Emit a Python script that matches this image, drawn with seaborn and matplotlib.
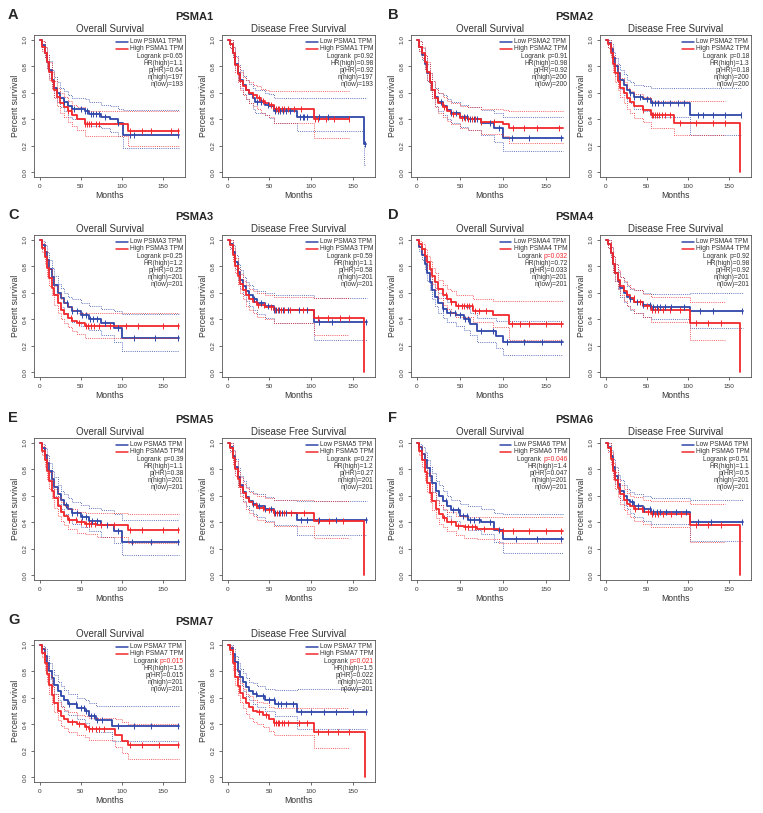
import numpy as np
import matplotlib
matplotlib.use("Agg")
import matplotlib.pyplot as plt
import seaborn as sns

# ---------------- data ----------------
genes = ["PSMA1", "PSMA2", "PSMA3", "PSMA4", "PSMA5", "PSMA6", "PSMA7"]
panel_letters = ["A", "B", "C", "D", "E", "F", "G"]

# stats: logrank p, HR(high), p(HR), n(high), n(low)
psma1_os_stats = ["0.65", "1.1", "0.64", "197", "193"]
psma1_dfs_stats = ["0.92", "0.98", "0.92", "197", "193"]
psma2_os_stats = ["0.91", "0.98", "0.92", "200", "200"]
psma2_dfs_stats = ["0.18", "1.3", "0.18", "200", "200"]
psma3_os_stats = ["0.25", "1.2", "0.25", "201", "201"]
psma3_dfs_stats = ["0.59", "1.1", "0.58", "201", "201"]
psma4_os_stats = ["0.032", "0.72", "0.033", "201", "201"]
psma4_dfs_stats = ["0.92", "0.98", "0.92", "201", "201"]
psma5_os_stats = ["0.39", "1.1", "0.38", "201", "201"]
psma5_dfs_stats = ["0.27", "1.2", "0.27", "201", "201"]
psma6_os_stats = ["0.046", "1.4", "0.047", "201", "201"]
psma6_dfs_stats = ["0.51", "1.1", "0.5", "201", "201"]
psma7_os_stats = ["0.015", "1.5", "0.015", "201", "201"]
psma7_dfs_stats = ["0.021", "1.5", "0.022", "201", "201"]

# KM curves: knot times, survival, lower / upper 95% CI, censor times
psma1_os_low_t = [0, 3, 6, 9, 12, 15, 18, 21, 25, 30, 35, 40, 55, 60, 75, 85, 95, 101, 170]
psma1_os_low_s = [1.0, 0.96, 0.9, 0.83, 0.77, 0.7, 0.64, 0.6, 0.56, 0.53, 0.5, 0.48, 0.46, 0.44, 0.42, 0.4, 0.37, 0.28, 0.28]
psma1_os_low_lo = [1.0, 0.93, 0.86, 0.78, 0.71, 0.64, 0.57, 0.53, 0.49, 0.46, 0.42, 0.4, 0.38, 0.35, 0.33, 0.3, 0.27, 0.18, 0.18]
psma1_os_low_hi = [1.0, 0.99, 0.95, 0.89, 0.84, 0.77, 0.72, 0.68, 0.64, 0.61, 0.58, 0.56, 0.55, 0.53, 0.51, 0.5, 0.48, 0.47, 0.47]
psma1_os_low_cens = [30, 42, 50, 55, 58, 62, 65, 68, 72, 80, 95, 110, 115, 168]
psma1_os_high_t = [0, 3, 6, 9, 12, 15, 18, 21, 25, 30, 35, 40, 45, 55, 107, 170]
psma1_os_high_s = [1.0, 0.95, 0.9, 0.83, 0.76, 0.69, 0.62, 0.57, 0.52, 0.49, 0.46, 0.43, 0.4, 0.36, 0.31, 0.31]
psma1_os_high_lo = [1.0, 0.92, 0.86, 0.78, 0.7, 0.63, 0.56, 0.5, 0.45, 0.42, 0.38, 0.35, 0.32, 0.27, 0.2, 0.2]
psma1_os_high_hi = [1.0, 0.99, 0.95, 0.89, 0.83, 0.76, 0.69, 0.64, 0.6, 0.57, 0.54, 0.51, 0.49, 0.46, 0.46, 0.46]
psma1_os_high_cens = [35, 38, 55, 58, 60, 63, 68, 72, 110, 125, 135, 160, 168]

psma1_dfs_low_t = [0, 3, 6, 9, 12, 15, 18, 22, 26, 30, 33, 45, 50, 55, 83, 163, 166]
psma1_dfs_low_s = [1.0, 0.97, 0.9, 0.82, 0.75, 0.7, 0.66, 0.62, 0.59, 0.56, 0.53, 0.51, 0.5, 0.46, 0.42, 0.21, 0.21]
psma1_dfs_low_lo = [1.0, 0.94, 0.86, 0.77, 0.69, 0.64, 0.59, 0.55, 0.52, 0.48, 0.45, 0.43, 0.41, 0.37, 0.31, 0.05, 0.05]
psma1_dfs_low_hi = [1.0, 1.0, 0.95, 0.88, 0.81, 0.77, 0.73, 0.7, 0.67, 0.64, 0.62, 0.6, 0.59, 0.56, 0.56, 0.56, 0.56]
psma1_dfs_low_cens = [35, 40, 48, 57, 60, 63, 66, 70, 75, 87, 90, 92, 95, 110, 120, 165]
psma1_dfs_high_t = [0, 3, 6, 9, 12, 15, 18, 22, 26, 30, 35, 40, 45, 50, 55, 103, 145]
psma1_dfs_high_s = [1.0, 0.97, 0.9, 0.81, 0.74, 0.69, 0.65, 0.62, 0.6, 0.58, 0.56, 0.54, 0.52, 0.51, 0.48, 0.4, 0.4]
psma1_dfs_high_lo = [1.0, 0.94, 0.86, 0.76, 0.68, 0.62, 0.58, 0.55, 0.52, 0.5, 0.48, 0.45, 0.43, 0.42, 0.37, 0.26, 0.26]
psma1_dfs_high_hi = [1.0, 1.0, 0.95, 0.87, 0.8, 0.76, 0.72, 0.7, 0.68, 0.66, 0.65, 0.63, 0.62, 0.61, 0.61, 0.61, 0.61]
psma1_dfs_high_cens = [30, 38, 42, 52, 58, 60, 62, 65, 68, 72, 80, 88, 105, 108, 118, 128, 145]

psma2_os_low_t = [0, 3, 6, 9, 12, 15, 18, 21, 25, 30, 35, 40, 50, 60, 75, 90, 100, 170]
psma2_os_low_s = [1.0, 0.95, 0.89, 0.82, 0.75, 0.68, 0.62, 0.57, 0.53, 0.5, 0.47, 0.45, 0.42, 0.4, 0.37, 0.33, 0.26, 0.26]
psma2_os_low_lo = [1.0, 0.92, 0.85, 0.77, 0.69, 0.62, 0.56, 0.5, 0.46, 0.43, 0.4, 0.37, 0.34, 0.32, 0.28, 0.23, 0.16, 0.16]
psma2_os_low_hi = [1.0, 0.99, 0.94, 0.88, 0.82, 0.75, 0.69, 0.64, 0.6, 0.58, 0.55, 0.53, 0.51, 0.49, 0.47, 0.45, 0.42, 0.42]
psma2_os_low_cens = [28, 40, 45, 55, 58, 62, 66, 70, 85, 95, 110, 130, 168]
psma2_os_high_t = [0, 3, 6, 9, 12, 15, 18, 21, 25, 30, 35, 40, 50, 60, 75, 100, 107, 170]
psma2_os_high_s = [1.0, 0.95, 0.9, 0.83, 0.76, 0.68, 0.62, 0.56, 0.52, 0.49, 0.46, 0.44, 0.41, 0.4, 0.38, 0.36, 0.33, 0.33]
psma2_os_high_lo = [1.0, 0.92, 0.86, 0.78, 0.7, 0.62, 0.56, 0.49, 0.45, 0.42, 0.39, 0.36, 0.33, 0.32, 0.29, 0.27, 0.22, 0.22]
psma2_os_high_hi = [1.0, 0.99, 0.95, 0.89, 0.83, 0.75, 0.69, 0.63, 0.6, 0.57, 0.54, 0.52, 0.5, 0.49, 0.48, 0.47, 0.46, 0.46]
psma2_os_high_cens = [32, 42, 52, 56, 60, 64, 68, 75, 90, 112, 125, 140, 165]

psma2_dfs_low_t = [0, 3, 6, 9, 12, 15, 18, 22, 26, 30, 35, 45, 55, 103, 165]
psma2_dfs_low_s = [1.0, 0.98, 0.93, 0.86, 0.8, 0.75, 0.7, 0.66, 0.62, 0.6, 0.57, 0.55, 0.52, 0.43, 0.43]
psma2_dfs_low_lo = [1.0, 0.95, 0.89, 0.8, 0.73, 0.68, 0.63, 0.58, 0.54, 0.52, 0.48, 0.46, 0.42, 0.28, 0.28]
psma2_dfs_low_hi = [1.0, 1.0, 0.97, 0.91, 0.86, 0.82, 0.77, 0.74, 0.7, 0.68, 0.66, 0.65, 0.64, 0.64, 0.64]
psma2_dfs_low_cens = [30, 35, 42, 50, 56, 60, 64, 70, 78, 88, 95, 112, 118, 130, 145, 165]
psma2_dfs_high_t = [0, 3, 6, 9, 12, 15, 18, 22, 26, 30, 35, 45, 55, 83, 145, 163]
psma2_dfs_high_s = [1.0, 0.97, 0.9, 0.82, 0.75, 0.69, 0.64, 0.6, 0.56, 0.53, 0.5, 0.47, 0.43, 0.37, 0.37, 0.0]
psma2_dfs_high_lo = [1.0, 0.94, 0.86, 0.76, 0.68, 0.62, 0.57, 0.52, 0.48, 0.45, 0.41, 0.38, 0.33, 0.28, 0.28]
psma2_dfs_high_hi = [1.0, 1.0, 0.95, 0.88, 0.82, 0.76, 0.71, 0.68, 0.64, 0.61, 0.59, 0.57, 0.54, 0.54, 0.54]
psma2_dfs_high_cens = [45, 56, 58, 60, 62, 65, 68, 72, 78, 90, 110, 130, 145]

psma3_os_low_t = [0, 3, 6, 9, 12, 15, 18, 22, 26, 30, 35, 40, 50, 60, 75, 90, 100, 170]
psma3_os_low_s = [1.0, 0.96, 0.91, 0.85, 0.78, 0.72, 0.66, 0.6, 0.56, 0.52, 0.49, 0.46, 0.43, 0.4, 0.37, 0.33, 0.26, 0.26]
psma3_os_low_lo = [1.0, 0.93, 0.87, 0.8, 0.72, 0.66, 0.59, 0.53, 0.49, 0.45, 0.41, 0.38, 0.35, 0.32, 0.28, 0.23, 0.16, 0.16]
psma3_os_low_hi = [1.0, 0.99, 0.96, 0.91, 0.85, 0.79, 0.73, 0.67, 0.64, 0.6, 0.57, 0.55, 0.52, 0.5, 0.48, 0.46, 0.44, 0.44]
psma3_os_low_cens = [33, 40, 46, 52, 57, 61, 65, 70, 80, 95, 115, 140, 168]
psma3_os_high_t = [0, 3, 6, 9, 12, 15, 18, 22, 26, 30, 35, 40, 45, 55, 170]
psma3_os_high_s = [1.0, 0.94, 0.87, 0.79, 0.71, 0.64, 0.58, 0.52, 0.47, 0.44, 0.41, 0.39, 0.37, 0.35, 0.35]
psma3_os_high_lo = [1.0, 0.91, 0.82, 0.73, 0.65, 0.58, 0.51, 0.45, 0.4, 0.37, 0.34, 0.31, 0.29, 0.26, 0.26]
psma3_os_high_hi = [1.0, 0.98, 0.92, 0.85, 0.78, 0.71, 0.65, 0.59, 0.55, 0.52, 0.49, 0.47, 0.45, 0.45, 0.45]
psma3_os_high_cens = [38, 48, 56, 59, 62, 66, 72, 85, 105, 120, 150, 168]

psma3_dfs_low_t = [0, 3, 6, 9, 12, 15, 18, 22, 26, 30, 35, 45, 55, 103, 167]
psma3_dfs_low_s = [1.0, 0.97, 0.91, 0.83, 0.76, 0.7, 0.65, 0.61, 0.58, 0.55, 0.52, 0.5, 0.47, 0.38, 0.38]
psma3_dfs_low_lo = [1.0, 0.94, 0.87, 0.78, 0.7, 0.63, 0.58, 0.54, 0.5, 0.47, 0.44, 0.41, 0.37, 0.24, 0.24]
psma3_dfs_low_hi = [1.0, 1.0, 0.96, 0.89, 0.82, 0.77, 0.72, 0.68, 0.66, 0.63, 0.61, 0.6, 0.58, 0.56, 0.56]
psma3_dfs_low_cens = [32, 40, 48, 55, 58, 62, 66, 72, 85, 95, 110, 125, 166]
psma3_dfs_high_t = [0, 3, 6, 9, 12, 15, 18, 22, 26, 30, 35, 45, 55, 103, 145, 163]
psma3_dfs_high_s = [1.0, 0.96, 0.89, 0.8, 0.73, 0.67, 0.62, 0.58, 0.55, 0.53, 0.51, 0.49, 0.47, 0.41, 0.41, 0.0]
psma3_dfs_high_lo = [1.0, 0.93, 0.84, 0.75, 0.67, 0.6, 0.55, 0.5, 0.47, 0.45, 0.42, 0.4, 0.37, 0.28, 0.28]
psma3_dfs_high_hi = [1.0, 1.0, 0.94, 0.86, 0.79, 0.74, 0.69, 0.66, 0.63, 0.61, 0.6, 0.58, 0.57, 0.56, 0.56]
psma3_dfs_high_cens = [36, 44, 52, 57, 60, 64, 68, 75, 90, 108, 120, 135, 145]

psma4_os_low_t = [0, 3, 6, 9, 12, 15, 18, 21, 25, 30, 35, 45, 55, 62, 70, 92, 100, 170]
psma4_os_low_s = [1.0, 0.95, 0.89, 0.82, 0.75, 0.68, 0.62, 0.57, 0.52, 0.48, 0.45, 0.43, 0.4, 0.36, 0.31, 0.27, 0.23, 0.23]
psma4_os_low_lo = [1.0, 0.92, 0.85, 0.77, 0.69, 0.62, 0.55, 0.5, 0.45, 0.41, 0.38, 0.35, 0.32, 0.28, 0.23, 0.18, 0.13, 0.13]
psma4_os_low_hi = [1.0, 0.98, 0.94, 0.88, 0.81, 0.75, 0.69, 0.64, 0.6, 0.56, 0.53, 0.51, 0.49, 0.45, 0.41, 0.39, 0.39, 0.39]
psma4_os_low_cens = [30, 38, 44, 50, 56, 60, 75, 88, 105, 125, 145, 168]
psma4_os_high_t = [0, 3, 6, 9, 12, 15, 18, 21, 25, 30, 35, 40, 45, 65, 88, 107, 170]
psma4_os_high_s = [1.0, 0.97, 0.93, 0.88, 0.83, 0.78, 0.73, 0.68, 0.63, 0.58, 0.55, 0.53, 0.5, 0.46, 0.43, 0.36, 0.36]
psma4_os_high_lo = [1.0, 0.95, 0.9, 0.84, 0.78, 0.72, 0.67, 0.62, 0.56, 0.51, 0.48, 0.45, 0.42, 0.38, 0.34, 0.24, 0.24]
psma4_os_high_hi = [1.0, 0.99, 0.97, 0.93, 0.88, 0.84, 0.79, 0.75, 0.7, 0.66, 0.63, 0.61, 0.58, 0.55, 0.54, 0.54, 0.54]
psma4_os_high_cens = [34, 40, 48, 52, 55, 58, 61, 64, 68, 72, 80, 110, 120, 130, 150, 168]

psma4_dfs_low_t = [0, 3, 6, 9, 12, 15, 18, 22, 26, 30, 35, 45, 55, 103, 167]
psma4_dfs_low_s = [1.0, 0.97, 0.9, 0.82, 0.75, 0.69, 0.64, 0.6, 0.57, 0.55, 0.53, 0.51, 0.49, 0.46, 0.46]
psma4_dfs_low_lo = [1.0, 0.94, 0.86, 0.77, 0.69, 0.63, 0.57, 0.53, 0.5, 0.47, 0.45, 0.42, 0.4, 0.33, 0.33]
psma4_dfs_low_hi = [1.0, 1.0, 0.95, 0.88, 0.82, 0.76, 0.72, 0.68, 0.65, 0.63, 0.62, 0.6, 0.59, 0.6, 0.6]
psma4_dfs_low_cens = [30, 38, 46, 54, 58, 62, 66, 72, 80, 95, 115, 130, 166]
psma4_dfs_high_t = [0, 3, 6, 9, 12, 15, 18, 22, 26, 30, 35, 45, 55, 103, 145, 163]
psma4_dfs_high_s = [1.0, 0.97, 0.9, 0.82, 0.75, 0.7, 0.65, 0.61, 0.58, 0.56, 0.53, 0.5, 0.47, 0.37, 0.37, 0.0]
psma4_dfs_high_lo = [1.0, 0.94, 0.86, 0.76, 0.69, 0.63, 0.58, 0.54, 0.5, 0.48, 0.45, 0.42, 0.38, 0.24, 0.24]
psma4_dfs_high_hi = [1.0, 1.0, 0.95, 0.88, 0.82, 0.77, 0.72, 0.69, 0.66, 0.64, 0.62, 0.59, 0.57, 0.53, 0.53]
psma4_dfs_high_cens = [34, 42, 50, 56, 60, 64, 70, 78, 90, 110, 125, 140]

psma5_os_low_t = [0, 3, 6, 9, 12, 15, 18, 22, 26, 30, 35, 40, 50, 60, 75, 90, 100, 170]
psma5_os_low_s = [1.0, 0.96, 0.91, 0.85, 0.79, 0.73, 0.67, 0.61, 0.57, 0.53, 0.5, 0.47, 0.44, 0.41, 0.38, 0.33, 0.25, 0.25]
psma5_os_low_lo = [1.0, 0.93, 0.87, 0.8, 0.73, 0.66, 0.6, 0.54, 0.5, 0.46, 0.42, 0.39, 0.36, 0.33, 0.29, 0.24, 0.15, 0.15]
psma5_os_low_hi = [1.0, 0.99, 0.96, 0.91, 0.85, 0.79, 0.74, 0.68, 0.64, 0.61, 0.58, 0.55, 0.53, 0.51, 0.49, 0.46, 0.42, 0.42]
psma5_os_low_cens = [32, 40, 46, 52, 56, 60, 64, 70, 82, 95, 112, 135, 168]
psma5_os_high_t = [0, 3, 6, 9, 12, 15, 18, 22, 26, 30, 35, 45, 55, 70, 107, 170]
psma5_os_high_s = [1.0, 0.94, 0.87, 0.79, 0.71, 0.64, 0.58, 0.52, 0.48, 0.45, 0.42, 0.4, 0.39, 0.38, 0.34, 0.34]
psma5_os_high_lo = [1.0, 0.91, 0.82, 0.73, 0.65, 0.58, 0.51, 0.45, 0.41, 0.38, 0.35, 0.32, 0.31, 0.29, 0.24, 0.24]
psma5_os_high_hi = [1.0, 0.98, 0.92, 0.85, 0.78, 0.71, 0.65, 0.59, 0.55, 0.52, 0.5, 0.48, 0.47, 0.47, 0.46, 0.46]
psma5_os_high_cens = [36, 44, 50, 56, 60, 63, 67, 75, 90, 110, 125, 150, 168]

psma5_dfs_low_t = [0, 3, 6, 9, 12, 15, 18, 22, 26, 30, 35, 45, 55, 83, 167]
psma5_dfs_low_s = [1.0, 0.97, 0.9, 0.82, 0.74, 0.68, 0.63, 0.59, 0.56, 0.54, 0.52, 0.5, 0.47, 0.42, 0.42]
psma5_dfs_low_lo = [1.0, 0.94, 0.86, 0.77, 0.68, 0.62, 0.56, 0.52, 0.49, 0.46, 0.44, 0.41, 0.38, 0.3, 0.3]
psma5_dfs_low_hi = [1.0, 1.0, 0.95, 0.88, 0.81, 0.75, 0.71, 0.67, 0.64, 0.62, 0.61, 0.59, 0.57, 0.56, 0.56]
psma5_dfs_low_cens = [30, 38, 45, 52, 57, 61, 65, 70, 88, 95, 110, 130, 166]
psma5_dfs_high_t = [0, 3, 6, 9, 12, 15, 18, 22, 26, 30, 35, 45, 55, 103, 145, 163]
psma5_dfs_high_s = [1.0, 0.96, 0.89, 0.8, 0.73, 0.67, 0.62, 0.58, 0.55, 0.53, 0.51, 0.49, 0.47, 0.41, 0.41, 0.0]
psma5_dfs_high_lo = [1.0, 0.93, 0.84, 0.75, 0.67, 0.6, 0.55, 0.5, 0.47, 0.45, 0.42, 0.4, 0.37, 0.28, 0.28]
psma5_dfs_high_hi = [1.0, 1.0, 0.94, 0.86, 0.79, 0.74, 0.69, 0.66, 0.63, 0.61, 0.6, 0.58, 0.57, 0.56, 0.56]
psma5_dfs_high_cens = [34, 42, 50, 56, 59, 63, 68, 76, 92, 108, 122, 138]

psma6_os_low_t = [0, 3, 6, 9, 12, 15, 18, 22, 26, 30, 35, 40, 50, 60, 75, 90, 100, 170]
psma6_os_low_s = [1.0, 0.97, 0.92, 0.87, 0.81, 0.75, 0.7, 0.64, 0.6, 0.56, 0.52, 0.49, 0.45, 0.42, 0.4, 0.34, 0.27, 0.27]
psma6_os_low_lo = [1.0, 0.94, 0.88, 0.82, 0.75, 0.69, 0.63, 0.57, 0.53, 0.49, 0.45, 0.41, 0.37, 0.34, 0.31, 0.25, 0.17, 0.17]
psma6_os_low_hi = [1.0, 0.99, 0.97, 0.93, 0.87, 0.82, 0.77, 0.71, 0.68, 0.64, 0.6, 0.57, 0.54, 0.52, 0.5, 0.47, 0.46, 0.46]
psma6_os_low_cens = [34, 42, 48, 54, 58, 62, 66, 72, 85, 96, 115, 140, 168]
psma6_os_high_t = [0, 3, 6, 9, 12, 15, 18, 22, 26, 30, 35, 45, 55, 70, 95, 170]
psma6_os_high_s = [1.0, 0.94, 0.87, 0.78, 0.7, 0.62, 0.56, 0.5, 0.46, 0.43, 0.4, 0.37, 0.36, 0.35, 0.33, 0.33]
psma6_os_high_lo = [1.0, 0.91, 0.82, 0.72, 0.63, 0.55, 0.49, 0.43, 0.39, 0.36, 0.33, 0.3, 0.28, 0.27, 0.24, 0.24]
psma6_os_high_hi = [1.0, 0.98, 0.92, 0.84, 0.77, 0.69, 0.63, 0.57, 0.53, 0.5, 0.48, 0.45, 0.44, 0.44, 0.44, 0.44]
psma6_os_high_cens = [32, 40, 48, 56, 60, 64, 68, 78, 100, 112, 130, 150, 168]

psma6_dfs_low_t = [0, 3, 6, 9, 12, 15, 18, 22, 26, 30, 35, 45, 55, 103, 167]
psma6_dfs_low_s = [1.0, 0.97, 0.9, 0.82, 0.75, 0.69, 0.64, 0.6, 0.57, 0.55, 0.52, 0.5, 0.48, 0.4, 0.4]
psma6_dfs_low_lo = [1.0, 0.94, 0.86, 0.77, 0.69, 0.63, 0.57, 0.53, 0.5, 0.47, 0.44, 0.41, 0.39, 0.26, 0.26]
psma6_dfs_low_hi = [1.0, 1.0, 0.95, 0.88, 0.82, 0.76, 0.72, 0.68, 0.65, 0.63, 0.61, 0.6, 0.58, 0.57, 0.57]
psma6_dfs_low_cens = [32, 40, 47, 54, 58, 62, 66, 74, 85, 98, 112, 128, 166]
psma6_dfs_high_t = [0, 3, 6, 9, 12, 15, 18, 22, 26, 30, 35, 45, 55, 103, 145, 163]
psma6_dfs_high_s = [1.0, 0.96, 0.88, 0.79, 0.72, 0.66, 0.61, 0.57, 0.54, 0.52, 0.5, 0.48, 0.46, 0.38, 0.38, 0.0]
psma6_dfs_high_lo = [1.0, 0.93, 0.83, 0.73, 0.65, 0.59, 0.54, 0.49, 0.46, 0.44, 0.41, 0.39, 0.36, 0.25, 0.25]
psma6_dfs_high_hi = [1.0, 1.0, 0.93, 0.85, 0.78, 0.73, 0.68, 0.65, 0.62, 0.6, 0.59, 0.57, 0.56, 0.54, 0.54]
psma6_dfs_high_cens = [36, 44, 51, 56, 60, 64, 70, 80, 92, 110, 125, 140]

psma7_os_low_t = [0, 3, 6, 9, 12, 15, 18, 22, 26, 30, 35, 45, 55, 60, 68, 88, 170]
psma7_os_low_s = [1.0, 0.97, 0.92, 0.86, 0.8, 0.75, 0.7, 0.65, 0.61, 0.58, 0.55, 0.52, 0.5, 0.46, 0.43, 0.39, 0.39]
psma7_os_low_lo = [1.0, 0.94, 0.88, 0.81, 0.74, 0.68, 0.63, 0.58, 0.54, 0.5, 0.47, 0.44, 0.41, 0.37, 0.34, 0.27, 0.27]
psma7_os_low_hi = [1.0, 0.99, 0.97, 0.92, 0.86, 0.81, 0.77, 0.72, 0.69, 0.66, 0.63, 0.6, 0.58, 0.56, 0.54, 0.54, 0.54]
psma7_os_low_cens = [36, 44, 50, 54, 57, 62, 66, 70, 76, 95, 115, 135, 168]
psma7_os_high_t = [0, 3, 6, 9, 12, 15, 18, 22, 26, 30, 35, 45, 55, 60, 92, 100, 107, 170]
psma7_os_high_s = [1.0, 0.94, 0.86, 0.78, 0.7, 0.62, 0.56, 0.5, 0.46, 0.44, 0.42, 0.4, 0.38, 0.36, 0.32, 0.27, 0.24, 0.24]
psma7_os_high_lo = [1.0, 0.91, 0.81, 0.72, 0.63, 0.55, 0.49, 0.43, 0.39, 0.37, 0.34, 0.32, 0.3, 0.28, 0.23, 0.18, 0.14, 0.14]
psma7_os_high_hi = [1.0, 0.98, 0.91, 0.84, 0.77, 0.69, 0.63, 0.57, 0.53, 0.51, 0.49, 0.47, 0.46, 0.45, 0.44, 0.42, 0.4, 0.4]
psma7_os_high_cens = [40, 48, 56, 60, 64, 68, 72, 78, 110, 125, 145, 168]

psma7_dfs_low_t = [0, 3, 6, 9, 12, 15, 18, 22, 26, 30, 35, 45, 57, 83, 167]
psma7_dfs_low_s = [1.0, 0.98, 0.93, 0.87, 0.8, 0.76, 0.72, 0.68, 0.65, 0.63, 0.61, 0.58, 0.55, 0.49, 0.49]
psma7_dfs_low_lo = [1.0, 0.96, 0.89, 0.82, 0.74, 0.7, 0.65, 0.61, 0.58, 0.55, 0.53, 0.5, 0.46, 0.36, 0.36]
psma7_dfs_low_hi = [1.0, 1.0, 0.97, 0.92, 0.86, 0.82, 0.79, 0.75, 0.72, 0.71, 0.69, 0.67, 0.66, 0.67, 0.67]
psma7_dfs_low_cens = [34, 42, 50, 56, 60, 64, 70, 78, 88, 100, 115, 130, 150, 166]
psma7_dfs_high_t = [0, 3, 6, 9, 12, 15, 18, 22, 26, 30, 35, 42, 50, 55, 103, 145, 165]
psma7_dfs_high_s = [1.0, 0.96, 0.86, 0.76, 0.69, 0.64, 0.6, 0.56, 0.53, 0.5, 0.49, 0.47, 0.44, 0.41, 0.34, 0.34, 0.0]
psma7_dfs_high_lo = [1.0, 0.93, 0.81, 0.7, 0.62, 0.57, 0.52, 0.48, 0.45, 0.42, 0.4, 0.38, 0.35, 0.32, 0.22, 0.22]
psma7_dfs_high_hi = [1.0, 0.99, 0.91, 0.82, 0.76, 0.71, 0.67, 0.63, 0.61, 0.58, 0.57, 0.56, 0.53, 0.52, 0.52, 0.52]
psma7_dfs_high_cens = [38, 46, 56, 58, 60, 62, 65, 68, 72, 85, 95, 108, 120, 132, 145]

# ---------------- style ----------------
sns.set_style("white")
plt.rcParams["font.family"] = ["Liberation Sans", "DejaVu Sans"]

BLUE = "#2f47a8"
RED = "#f2282c"
TXT = "#333333"

W, H = 763, 813
fig = plt.figure(figsize=(W / 100, H / 100), dpi=100)

col_left = [34, 222, 411, 600]
col_width = [151, 153, 158, 151]
row_top = [0, 200, 403, 605]
group_letter_x = [8, 388]
group_title_x = [194, 574]


def px_axes(x, y, w, h):
    return fig.add_axes([x / W, 1 - (y + h) / H, w / W, h / H])


def draw_curve(ax, prefix, color):
    g = globals()
    t = g[prefix + "_t"]
    s = g[prefix + "_s"]
    lo = g[prefix + "_lo"]
    hi = g[prefix + "_hi"]
    cens = g[prefix + "_cens"]
    n = len(lo)
    for ci in (lo, hi):
        sns.lineplot(x=t[:n], y=ci, drawstyle="steps-post", color=color, lw=0.7,
                     linestyle=(0, (1, 1.2)), alpha=0.75, estimator=None, sort=False,
                     legend=False, ax=ax)
    sns.lineplot(x=t, y=s, drawstyle="steps-post", color=color, lw=1.3,
                 estimator=None, sort=False, legend=False, ax=ax)
    idx = np.searchsorted(t, cens, side="right") - 1
    cy = np.array(s)[idx]
    sns.scatterplot(x=cens, y=cy, marker="|", s=16, color=color, linewidth=0.7,
                    legend=False, ax=ax, zorder=5)


def legend_block(ax, gene, stats):
    r = fig.canvas.get_renderer()
    fs = 4.8
    ys = [0.951 - i * 0.0506 for i in range(7)]
    xr = 0.99
    hi_txt = ax.text(xr, ys[1], "High %s TPM" % gene, transform=ax.transAxes,
                     ha="right", va="center", fontsize=fs, color=TXT)
    bb = hi_txt.get_window_extent(r).transformed(ax.transAxes.inverted())
    x0 = bb.x0
    ax.text(x0, ys[0], "Low %s TPM" % gene, transform=ax.transAxes,
            ha="left", va="center", fontsize=fs, color=TXT)
    for yy, c in ((ys[0], BLUE), (ys[1], RED)):
        ax.plot([x0 - 0.09, x0 - 0.015], [yy, yy], color=c, lw=1.1,
                transform=ax.transAxes)
    p, hr, phr, nh, nl = stats
    pcol = RED if float(p) < 0.05 else TXT
    pt = ax.text(xr, ys[2], "p=" + p, transform=ax.transAxes, ha="right",
                 va="center", fontsize=fs, color=pcol)
    pb = pt.get_window_extent(r).transformed(ax.transAxes.inverted())
    ax.text(pb.x0, ys[2], "Logrank ", transform=ax.transAxes, ha="right",
            va="center", fontsize=fs, color=TXT)
    lines = ["HR(high)=" + hr, "p(HR)=" + phr, "n(high)=" + nh, "n(low)=" + nl]
    for yy, line in zip(ys[3:], lines):
        ax.text(xr, yy, line, transform=ax.transAxes, ha="right", va="center",
                fontsize=fs, color=TXT)


for i, gene in enumerate(genes):
    row, grp = divmod(i, 2)
    top = row_top[row]
    fig.text(group_letter_x[grp] / W, 1 - (top + 15) / H, panel_letters[i],
             ha="left", va="center", fontsize=10.5, fontweight="bold")
    fig.text(group_title_x[grp] / W, 1 - (top + 17) / H, gene,
             ha="center", va="center", fontsize=8, fontweight="bold")
    for k, kind in enumerate(["os", "dfs"]):
        c = grp * 2 + k
        ax = px_axes(col_left[c], top + 34.7, col_width[c], 142.6)
        pre = "%s_%s" % (gene.lower(), kind)
        draw_curve(ax, pre + "_low", BLUE)
        draw_curve(ax, pre + "_high", RED)
        ax.set_xlim(-6.8, 176.8)
        ax.set_ylim(-0.04, 1.04)
        ax.set_xticks([0, 50, 100, 150])
        ax.set_yticks([0, 0.2, 0.4, 0.6, 0.8, 1.0])
        ax.set_yticklabels(["0.0", "0.2", "0.4", "0.6", "0.8", "1.0"],
                           rotation=90, va="center")
        ax.tick_params(labelsize=4.6, length=2.5, width=0.5, pad=2,
                       colors=TXT, left=True, bottom=True)
        for sp in ax.spines.values():
            sp.set_visible(True)
            sp.set_linewidth(0.6)
            sp.set_color("#555555")
        ax.set_xlabel("Months", fontsize=6.2, labelpad=2, color=TXT)
        ax.set_ylabel("Percent survival", fontsize=6.2, labelpad=2, color=TXT)
        ax.set_title("Overall Survival" if kind == "os" else "Disease Free Survival",
                     fontsize=7, pad=2, color=TXT)
        legend_block(ax, gene, globals()[pre + "_stats"])

fig.savefig("out.png", dpi=100)
